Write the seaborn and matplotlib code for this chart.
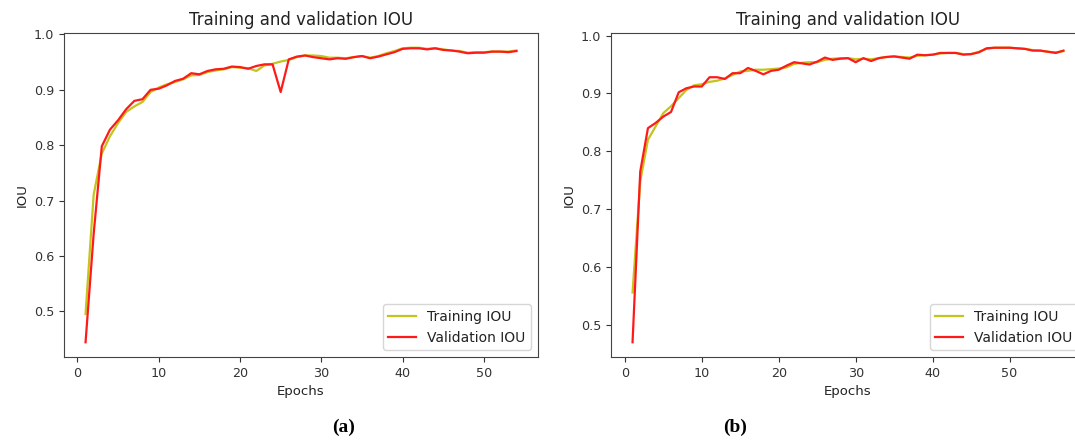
import numpy as np
import matplotlib
matplotlib.use("Agg")
import matplotlib.pyplot as plt
import seaborn as sns

train_a = [0.495, 0.711, 0.785, 0.816, 0.840, 0.860, 0.870, 0.878, 0.896, 0.904,
           0.910, 0.914, 0.919, 0.926, 0.927, 0.932, 0.935, 0.937, 0.941, 0.940,
           0.939, 0.934, 0.944, 0.947, 0.951, 0.954, 0.959, 0.962, 0.962, 0.961,
           0.958, 0.958, 0.957, 0.959, 0.961, 0.958, 0.961, 0.966, 0.970, 0.975,
           0.976, 0.976, 0.974, 0.975, 0.973, 0.971, 0.970, 0.967, 0.968, 0.968,
           0.969, 0.969, 0.969, 0.971]
val_a = [0.444, 0.640, 0.798, 0.828, 0.845, 0.865, 0.880, 0.883, 0.900, 0.902,
         0.908, 0.916, 0.920, 0.930, 0.928, 0.934, 0.937, 0.938, 0.942, 0.941,
         0.938, 0.943, 0.946, 0.946, 0.896, 0.955, 0.960, 0.962, 0.959, 0.957,
         0.955, 0.957, 0.956, 0.959, 0.961, 0.957, 0.960, 0.964, 0.968, 0.974,
         0.975, 0.975, 0.973, 0.975, 0.972, 0.971, 0.969, 0.966, 0.967, 0.967,
         0.969, 0.969, 0.968, 0.970]
train_b = [0.556, 0.748, 0.820, 0.843, 0.866, 0.878, 0.892, 0.906, 0.914, 0.916,
           0.920, 0.922, 0.926, 0.932, 0.938, 0.939, 0.941, 0.941, 0.942, 0.943,
           0.945, 0.951, 0.953, 0.954, 0.954, 0.958, 0.960, 0.961, 0.961, 0.959,
           0.960, 0.959, 0.961, 0.963, 0.964, 0.963, 0.962, 0.965, 0.966, 0.967,
           0.969, 0.970, 0.970, 0.968, 0.968, 0.972, 0.977, 0.979, 0.979, 0.979,
           0.978, 0.977, 0.975, 0.974, 0.972, 0.971, 0.973]
val_b = [0.470, 0.765, 0.840, 0.849, 0.860, 0.868, 0.902, 0.909, 0.912, 0.912,
         0.928, 0.928, 0.925, 0.935, 0.935, 0.944, 0.939, 0.933, 0.939, 0.941,
         0.948, 0.954, 0.952, 0.950, 0.955, 0.962, 0.958, 0.960, 0.961, 0.954,
         0.961, 0.956, 0.961, 0.963, 0.964, 0.962, 0.960, 0.967, 0.966, 0.967,
         0.970, 0.970, 0.970, 0.967, 0.968, 0.971, 0.978, 0.979, 0.979, 0.979,
         0.978, 0.977, 0.974, 0.974, 0.972, 0.970, 0.974]

series_labels = ["Training IOU", "Validation IOU"]
title = "Training and validation IOU"
panel_labels = ["(a)", "(b)"]

W, H = 1075, 440
fig = plt.figure(figsize=(W / 100, H / 100), dpi=100)

def px_axes(left, top, right, bottom):
    return fig.add_axes([left / W, 1 - bottom / H, (right - left) / W, (bottom - top) / H])

ax_a = px_axes(64, 33, 538, 357)
ax_b = px_axes(611, 33, 1085, 357)

for ax, tr, va in [(ax_a, train_a, val_a), (ax_b, train_b, val_b)]:
    ep = np.arange(1, len(tr) + 1)
    sns.lineplot(x=ep, y=tr, color="#c4c41c", lw=1.6, label=series_labels[0], ax=ax)
    sns.lineplot(x=ep, y=va, color="#ff1a1a", lw=1.6, label=series_labels[1], ax=ax)
    ax.set_title(title, fontsize=12, color="#222222")
    ax.set_xlabel("Epochs", fontsize=9.5, color="#222222")
    ax.set_ylabel("IOU", fontsize=9.5, color="#222222")
    ax.tick_params(labelsize=9.2, colors="#333333")
    ax.set_xticks([0, 10, 20, 30, 40, 50])
    for s in ax.spines.values():
        s.set_color("#444444")
    leg = ax.legend(loc="lower right", fontsize=10)
    for t in leg.get_texts():
        t.set_color("#222222")

fig.text(344 / W, 1 - 427 / H, panel_labels[0], ha="center", va="center",
         fontsize=14, fontweight="bold", family="Liberation Serif")
fig.text(735 / W, 1 - 427 / H, panel_labels[1], ha="center", va="center",
         fontsize=14, fontweight="bold", family="Liberation Serif")

fig.savefig("out.png", dpi=100)
